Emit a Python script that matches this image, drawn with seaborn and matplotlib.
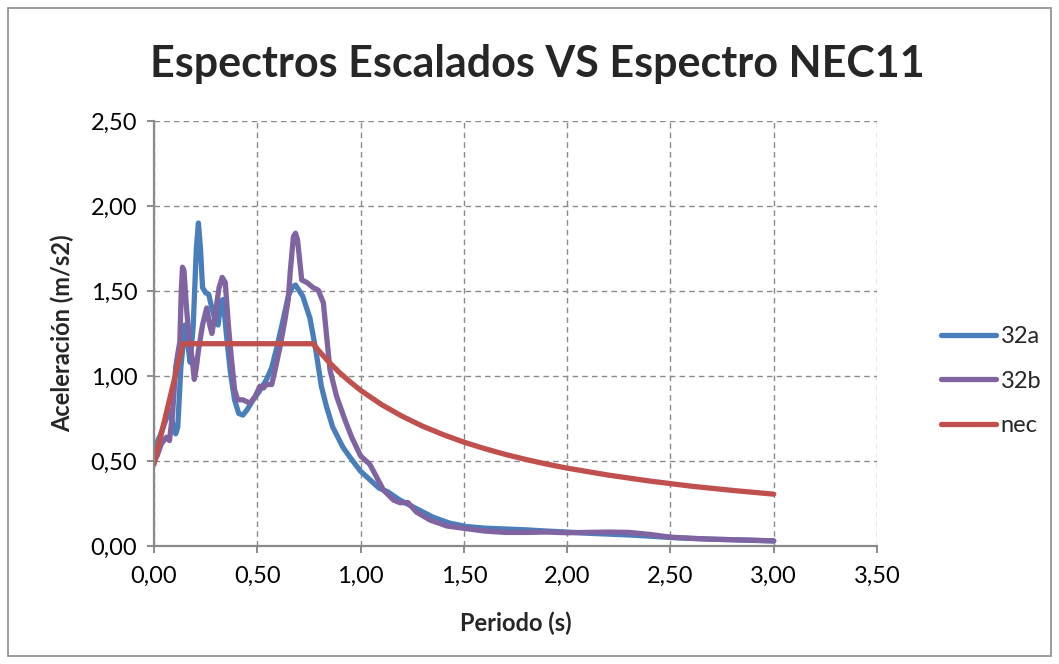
import matplotlib
matplotlib.use("Agg")
import matplotlib.pyplot as plt
from matplotlib.lines import Line2D
from matplotlib.patches import Rectangle
from matplotlib.ticker import FuncFormatter
import pandas as pd
import seaborn as sns

# Scaled record spectra (period in s, spectral acceleration)
t_32a = [0.00, 0.03, 0.06, 0.08, 0.09, 0.105, 0.115, 0.13, 0.15, 0.16, 0.175, 0.19,
         0.205, 0.215, 0.225, 0.235, 0.25, 0.265, 0.28, 0.295, 0.31, 0.325, 0.335,
         0.35, 0.37, 0.39, 0.41, 0.43, 0.45, 0.48, 0.51, 0.545, 0.57, 0.595, 0.625,
         0.65, 0.67, 0.685, 0.72, 0.755, 0.785, 0.81, 0.835, 0.865, 0.915, 0.95, 1.00,
         1.045, 1.09, 1.13, 1.19, 1.27, 1.35, 1.43, 1.51, 1.60, 1.70, 1.80, 1.90, 2.00,
         2.10, 2.20, 2.30, 2.40, 2.50, 2.60, 2.70, 2.80, 2.90, 3.00]
sa_32a = [0.57, 0.65, 0.75, 0.80, 0.72, 0.66, 0.70, 1.05, 1.30, 1.22, 1.08, 1.30,
          1.75, 1.90, 1.75, 1.52, 1.49, 1.48, 1.40, 1.33, 1.30, 1.44, 1.45,
          1.25, 1.02, 0.86, 0.78, 0.77, 0.80, 0.86, 0.91, 0.98, 1.05, 1.17, 1.33,
          1.47, 1.525, 1.535, 1.47, 1.34, 1.14, 0.94, 0.82, 0.70, 0.58, 0.52, 0.44,
          0.39, 0.34, 0.32, 0.27, 0.22, 0.17, 0.135, 0.115, 0.105, 0.10, 0.095, 0.088, 0.082,
          0.075, 0.07, 0.065, 0.058, 0.05, 0.045, 0.04, 0.037, 0.033, 0.03]

t_32b = [0.00, 0.015, 0.035, 0.06, 0.075, 0.09, 0.105, 0.115, 0.125, 0.132, 0.138,
         0.145, 0.158, 0.172, 0.185, 0.195, 0.205, 0.215, 0.235, 0.255, 0.27, 0.28,
         0.295, 0.315, 0.33, 0.345, 0.36, 0.375, 0.39, 0.405, 0.43, 0.465, 0.49,
         0.513, 0.53, 0.545, 0.57, 0.586, 0.61, 0.634, 0.65, 0.66, 0.675, 0.685,
         0.695, 0.715, 0.74, 0.77, 0.795, 0.82, 0.836, 0.852, 0.884, 0.925, 0.957,
         1.00, 1.045, 1.08, 1.11, 1.16, 1.19, 1.23, 1.27, 1.336, 1.417, 1.50, 1.60,
         1.70, 1.80, 1.90, 2.00, 2.10, 2.20, 2.30, 2.40, 2.50, 2.60, 2.70, 2.80, 2.90, 3.00]
sa_32b = [0.50, 0.53, 0.60, 0.64, 0.62, 0.78, 1.05, 1.13, 1.20, 1.50, 1.64,
          1.62, 1.39, 1.20, 1.10, 0.98, 1.05, 1.15, 1.30, 1.40, 1.30, 1.25,
          1.35, 1.52, 1.58, 1.55, 1.30, 1.10, 0.92, 0.86, 0.86, 0.84, 0.88,
          0.94, 0.93, 0.95, 0.95, 1.035, 1.17, 1.33, 1.45, 1.62, 1.82, 1.84,
          1.80, 1.565, 1.55, 1.52, 1.505, 1.43, 1.23, 1.035, 0.88, 0.74, 0.64,
          0.53, 0.48, 0.40, 0.33, 0.27, 0.255, 0.255, 0.20, 0.153, 0.118, 0.104, 0.088,
          0.08, 0.08, 0.082, 0.078, 0.08, 0.082, 0.08, 0.068, 0.052, 0.045, 0.04, 0.037, 0.034, 0.03]

# NEC-11 design spectrum
t_nec = [0.00, 0.14, 0.77, 0.80, 0.85, 0.90, 0.95, 1.00, 1.10, 1.20, 1.30, 1.40,
         1.50, 1.60, 1.70, 1.80, 1.90, 2.00, 2.20, 2.40, 2.60, 2.80, 3.00]
sa_nec = [0.48, 1.19, 1.19, 1.145, 1.078, 1.018, 0.965, 0.916, 0.833, 0.764, 0.705, 0.655,
          0.611, 0.573, 0.539, 0.509, 0.482, 0.458, 0.417, 0.382, 0.352, 0.327, 0.305]

series_names = ["32a", "32b", "nec"]
series_colors = ["#4A7EBB", "#8064A2", "#C0504D"]

x_ticks = [0.0, 0.5, 1.0, 1.5, 2.0, 2.5, 3.0, 3.5]
y_ticks = [0.0, 0.5, 1.0, 1.5, 2.0, 2.5]

df = pd.concat([
    pd.DataFrame({"Periodo": t_32a, "Sa": sa_32a, "serie": "32a"}),
    pd.DataFrame({"Periodo": t_32b, "Sa": sa_32b, "serie": "32b"}),
    pd.DataFrame({"Periodo": t_nec, "Sa": sa_nec, "serie": "nec"}),
], ignore_index=True)

sns.set_theme(style="white")
plt.rcParams["font.family"] = ["Lato", "DejaVu Sans"]

W, H = 1059, 664
fig = plt.figure(figsize=(W / 100, H / 100), dpi=100)
fig.patch.set_facecolor("white")
# chart area frame
fig.add_artist(Rectangle((8 / W, 8 / H), 1 - 16 / W, 1 - 16 / H, transform=fig.transFigure,
                         fill=False, edgecolor="#8c8c8c", linewidth=1.2))

ax = fig.add_axes([154 / W, 1 - 546 / H, (877 - 154) / W, (546 - 121) / H])
palette = dict(zip(series_names, series_colors))
sns.lineplot(data=df, x="Periodo", y="Sa", hue="serie", palette=palette,
             estimator=None, sort=False, linewidth=3.8, ax=ax, legend=False,
             solid_capstyle="round", solid_joinstyle="round")

ax.set_xlim(0, 3.5)
ax.set_ylim(0, 2.5)
ax.set_xticks(x_ticks)
ax.set_yticks(y_ticks)
fmt = FuncFormatter(lambda v, p: f"{v:.2f}".replace(".", ","))
ax.xaxis.set_major_formatter(fmt)
ax.yaxis.set_major_formatter(fmt)

ax.grid(True, linestyle=(0, (4, 3)), color="#8a8a8a", linewidth=1.0)
ax.set_axisbelow(True)
for s in ["top", "right"]:
    ax.spines[s].set_visible(False)
for s in ["left", "bottom"]:
    ax.spines[s].set_color("#8a8a8a")
    ax.spines[s].set_linewidth(1.6)
ax.tick_params(axis="both", which="major", direction="out", length=5, width=1.4,
               color="#8a8a8a", labelsize=17, labelcolor="black", pad=7,
               left=True, bottom=True)
ax.tick_params(axis="x", pad=9)

ax.set_xlabel("Periodo (s)", fontsize=17, fontweight="bold", labelpad=18)
ax.set_ylabel("Aceleración (m/s2)", fontsize=17, fontweight="bold", labelpad=12)

fig.text(537 / W, 1 - 64 / H, "Espectros Escalados VS Espectro NEC11",
         ha="center", va="center", fontsize=31, fontweight="bold")

handles = [Line2D([0], [0], color=c, lw=3.8, solid_capstyle="round") for c in series_colors]
fig.legend(handles, series_names, loc="center left",
           bbox_to_anchor=(932 / W, 1 - 381 / H), frameon=False, fontsize=17,
           handlelength=2.3, handletextpad=0.2, labelspacing=1.0, borderaxespad=0)

fig.savefig("out.png", dpi=100, facecolor="white")
